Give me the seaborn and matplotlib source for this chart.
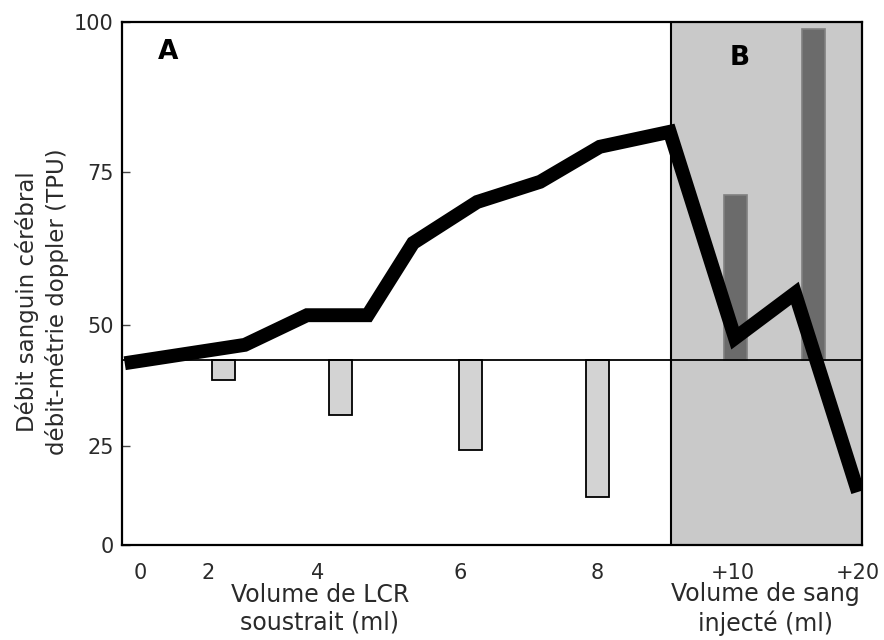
import numpy as np
import matplotlib
matplotlib.use("Agg")
import matplotlib.pyplot as plt
import seaborn as sns

# Axis ticks (the original rulings are hand-spaced, so each axis gets a
# piecewise-linear scale through these knots)
x_tick_values = [0, 2, 4, 6, 8, 10, 20]
x_tick_labels = ["0", "2", "4", "6", "8", "+10", "+20"]
y_tick_values = [0, 25, 50, 75, 100]
y_tick_labels = ["0", "25", "50", "75", "100"]

# Cerebral blood flow (laser-doppler, TPU)
flow_x = [-0.45, 2.67, 3.80, 4.70, 5.34, 6.25, 7.17, 8.04, 9.07, 10.16, 14.96, 20.0]
flow_y = [42.1, 45.9, 51.6, 51.6, 63.4, 70.1, 73.4, 79.2, 81.7, 47.3, 55.2, 13.4]

# Reference level of the bars
baseline = 42.8

# Phase A: CSF withdrawn
lcr_x = [2.29, 4.32, 6.15, 8.0]
lcr_y = [38.6, 31.4, 24.0, 12.1]

# Phase B: blood injected
sang_x = [10.2, 16.4]
sang_y = [71.2, 98.8]

# Start of phase B
phase_b_start = 9.09


def piecewise_scale(vals, pos):
    vals = np.asarray(vals, float)
    pos = np.asarray(pos, float)
    s0 = (pos[1] - pos[0]) / (vals[1] - vals[0])
    s1 = (pos[-1] - pos[-2]) / (vals[-1] - vals[-2])

    def fwd(v):
        v = np.asarray(v, float)
        out = np.interp(v, vals, pos)
        out = np.where(v < vals[0], pos[0] + (v - vals[0]) * s0, out)
        out = np.where(v > vals[-1], pos[-1] + (v - vals[-1]) * s1, out)
        return out

    def inv(p):
        p = np.asarray(p, float)
        out = np.interp(p, pos, vals)
        out = np.where(p < pos[0], vals[0] + (p - pos[0]) / s0, out)
        out = np.where(p > pos[-1], vals[-1] + (p - pos[-1]) / s1, out)
        return out

    return fwd, inv


x_fwd, x_inv = piecewise_scale(x_tick_values, [140, 208, 318, 460, 597, 733, 858])
y_fwd, y_inv = piecewise_scale(y_tick_values, [0, 99, 220, 373, 523])

sns.set_theme(style="white")
plt.rcParams["font.family"] = ["DejaVu Sans"]
text_color = "#2a2a2a"

fig = plt.figure(figsize=(8.84, 6.4), dpi=100)
ax = fig.add_axes([122 / 884, 95 / 640, 740 / 884, 523 / 640])

sns.lineplot(x=flow_x, y=flow_y, ax=ax, color="black", linewidth=10,
             sort=False, zorder=4)
ax.lines[-1].set_solid_joinstyle("miter")
ax.lines[-1].set_solid_capstyle("butt")

ax.set_xscale("function", functions=(x_fwd, x_inv))
ax.set_yscale("function", functions=(y_fwd, y_inv))
ax.set_xlim(-0.53, 20.32)
ax.set_ylim(0, 100)

# Shaded phase B
ax.axvspan(phase_b_start, 20.32, color="#c9c9c9", zorder=0, lw=0)
ax.axvline(phase_b_start, color="black", lw=1.5, zorder=3)
ax.axhline(baseline, color="black", lw=1.3, zorder=3)


def bar_edges(centers, half_px=11.5):
    c = np.asarray(centers, float)
    left = x_inv(x_fwd(c) - half_px)
    right = x_inv(x_fwd(c) + half_px)
    return left, right - left


left, width = bar_edges(lcr_x)
ax.bar(left, np.asarray(lcr_y) - baseline, width=width, bottom=baseline,
       align="edge", color="#d3d3d3", edgecolor="black", linewidth=1.3, zorder=2)

left, width = bar_edges(sang_x)
ax.bar(left, np.asarray(sang_y) - baseline, width=width, bottom=baseline,
       align="edge", color="#6b6b6b", edgecolor="#808080", linewidth=1.2, zorder=2)

# Panel letters
ax.text(0.062, 0.943, "A", transform=ax.transAxes, ha="center", va="center",
        fontsize=19, fontweight="bold", color="black")
ax.text(0.835, 0.931, "B", transform=ax.transAxes, ha="center", va="center",
        fontsize=19, fontweight="bold", color="black")

ax.set_xticks(x_tick_values)
ax.set_xticklabels(x_tick_labels)
ax.set_yticks(y_tick_values)
ax.set_yticklabels(y_tick_labels)
ax.xaxis.set_minor_locator(matplotlib.ticker.NullLocator())
ax.yaxis.set_minor_locator(matplotlib.ticker.NullLocator())
ax.tick_params(axis="x", length=0, pad=13, labelsize=15, labelcolor=text_color)
ax.tick_params(axis="y", direction="in", length=6, width=1, color="#444444",
               pad=6, labelsize=15, labelcolor=text_color, left=True)

for side in ["left", "right", "top", "bottom"]:
    ax.spines[side].set_visible(True)
    ax.spines[side].set_color("black")
    ax.spines[side].set_linewidth(1.6)

ax.set_xlabel("")
ax.set_ylabel("")

fig.text(42 / 884, 1 - 302 / 640,
         "Débit sanguin cérébral\ndébit-métrie doppler (TPU)",
         rotation=90, ha="center", va="center", multialignment="center",
         fontsize=16.5, linespacing=1.35, color=text_color)
fig.text(320 / 884, 1 - 609 / 640, "Volume de LCR\nsoustrait (ml)",
         ha="center", va="center", multialignment="center",
         fontsize=17, linespacing=1.2, color=text_color)
fig.text(765 / 884, 1 - 609 / 640, "Volume de sang\ninjecté (ml)",
         ha="center", va="center", multialignment="center",
         fontsize=17, linespacing=1.2, color=text_color)

fig.savefig("out.png", dpi=100)
